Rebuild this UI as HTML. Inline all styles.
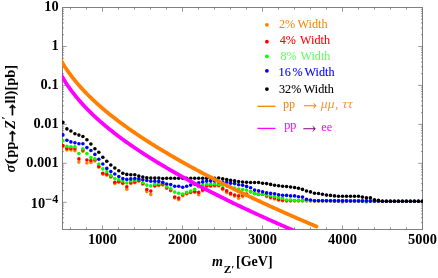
<!DOCTYPE html>
<html><head><meta charset="utf-8"><title>plot</title>
<style>html,body{margin:0;padding:0;background:#fff}svg{display:block;will-change:transform}</style></head>
<body><svg width="438" height="278" viewBox="0 0 438 278">
<rect width="438" height="278" fill="#fff"/>
<defs><clipPath id="c"><rect x="62.5" y="7.5" width="360.0" height="222.0"/></clipPath><clipPath id="c2"><rect x="62" y="7" width="361" height="223"/></clipPath></defs>
<rect x="62.5" y="7.5" width="360.0" height="222.0" stroke="#808080" stroke-width="1" fill="none" shape-rendering="crispEdges"/>
<g stroke="#555555" stroke-width="0.6" fill="none">
<path d="M70.5,229.5v-2.2M70.5,7.5v2.2M86.5,229.5v-2.2M86.5,7.5v2.2M102.5,229.5v-4.2M102.5,7.5v4.2M118.5,229.5v-2.2M118.5,7.5v2.2M134.5,229.5v-2.2M134.5,7.5v2.2M150.5,229.5v-2.2M150.5,7.5v2.2M166.5,229.5v-2.2M166.5,7.5v2.2M182.5,229.5v-4.2M182.5,7.5v4.2M198.5,229.5v-2.2M198.5,7.5v2.2M214.5,229.5v-2.2M214.5,7.5v2.2M230.5,229.5v-2.2M230.5,7.5v2.2M246.5,229.5v-2.2M246.5,7.5v2.2M262.5,229.5v-4.2M262.5,7.5v4.2M278.5,229.5v-2.2M278.5,7.5v2.2M294.5,229.5v-2.2M294.5,7.5v2.2M310.5,229.5v-2.2M310.5,7.5v2.2M326.5,229.5v-2.2M326.5,7.5v2.2M342.5,229.5v-4.2M342.5,7.5v4.2M358.5,229.5v-2.2M358.5,7.5v2.2M374.5,229.5v-2.2M374.5,7.5v2.2M390.5,229.5v-2.2M390.5,7.5v2.2M406.5,229.5v-2.2M406.5,7.5v2.2M62.5,222.7h1.6M422.5,222.7h-1.6M62.5,217.8h1.6M422.5,217.8h-1.6M62.5,214.0h1.6M422.5,214.0h-1.6M62.5,210.9h1.6M422.5,210.9h-1.6M62.5,208.3h1.6M422.5,208.3h-1.6M62.5,206.1h1.6M422.5,206.1h-1.6M62.5,204.1h1.6M422.5,204.1h-1.6M62.5,202.3h4.2M422.5,202.3h-4.2M62.5,190.6h1.6M422.5,190.6h-1.6M62.5,183.7h1.6M422.5,183.7h-1.6M62.5,178.8h1.6M422.5,178.8h-1.6M62.5,175.1h1.6M422.5,175.1h-1.6M62.5,172.0h1.6M422.5,172.0h-1.6M62.5,169.4h1.6M422.5,169.4h-1.6M62.5,167.1h1.6M422.5,167.1h-1.6M62.5,165.1h1.6M422.5,165.1h-1.6M62.5,163.3h4.2M422.5,163.3h-4.2M62.5,151.6h1.6M422.5,151.6h-1.6M62.5,144.8h1.6M422.5,144.8h-1.6M62.5,139.9h1.6M422.5,139.9h-1.6M62.5,136.1h1.6M422.5,136.1h-1.6M62.5,133.0h1.6M422.5,133.0h-1.6M62.5,130.4h1.6M422.5,130.4h-1.6M62.5,128.2h1.6M422.5,128.2h-1.6M62.5,126.2h1.6M422.5,126.2h-1.6M62.5,124.4h4.2M422.5,124.4h-4.2M62.5,112.7h1.6M422.5,112.7h-1.6M62.5,105.8h1.6M422.5,105.8h-1.6M62.5,100.9h1.6M422.5,100.9h-1.6M62.5,97.1h1.6M422.5,97.1h-1.6M62.5,94.1h1.6M422.5,94.1h-1.6M62.5,91.5h1.6M422.5,91.5h-1.6M62.5,89.2h1.6M422.5,89.2h-1.6M62.5,87.2h1.6M422.5,87.2h-1.6M62.5,85.4h4.2M422.5,85.4h-4.2M62.5,73.7h1.6M422.5,73.7h-1.6M62.5,66.8h1.6M422.5,66.8h-1.6M62.5,62.0h1.6M422.5,62.0h-1.6M62.5,58.2h1.6M422.5,58.2h-1.6M62.5,55.1h1.6M422.5,55.1h-1.6M62.5,52.5h1.6M422.5,52.5h-1.6M62.5,50.2h1.6M422.5,50.2h-1.6M62.5,48.2h1.6M422.5,48.2h-1.6M62.5,46.5h4.2M422.5,46.5h-4.2M62.5,34.7h1.6M422.5,34.7h-1.6M62.5,27.9h1.6M422.5,27.9h-1.6M62.5,23.0h1.6M422.5,23.0h-1.6M62.5,19.2h1.6M422.5,19.2h-1.6M62.5,16.1h1.6M422.5,16.1h-1.6M62.5,13.5h1.6M422.5,13.5h-1.6M62.5,11.3h1.6M422.5,11.3h-1.6M62.5,9.3h1.6M422.5,9.3h-1.6"/>
</g>
<g clip-path="url(#c2)">
<g fill="#ff8000">
<circle cx="62.9" cy="146.7" r="1.8"/>
<circle cx="66.9" cy="150.0" r="1.8"/>
<circle cx="70.9" cy="150.0" r="1.8"/>
<circle cx="74.9" cy="150.8" r="1.8"/>
<circle cx="78.9" cy="162.1" r="1.8"/>
<circle cx="82.9" cy="151.2" r="1.8"/>
<circle cx="86.9" cy="163.0" r="1.8"/>
<circle cx="90.9" cy="162.5" r="1.8"/>
<circle cx="94.9" cy="161.0" r="1.8"/>
<circle cx="98.8" cy="167.3" r="1.8"/>
<circle cx="102.8" cy="174.3" r="1.8"/>
<circle cx="106.8" cy="175.2" r="1.8"/>
<circle cx="110.8" cy="177.2" r="1.8"/>
<circle cx="114.8" cy="183.5" r="1.8"/>
<circle cx="118.8" cy="182.3" r="1.8"/>
<circle cx="122.8" cy="183.6" r="1.8"/>
<circle cx="126.8" cy="189.2" r="1.8"/>
<circle cx="130.8" cy="183.5" r="1.8"/>
<circle cx="134.8" cy="182.7" r="1.8"/>
<circle cx="138.8" cy="181.2" r="1.8"/>
<circle cx="142.8" cy="184.2" r="1.8"/>
<circle cx="146.8" cy="191.6" r="1.8"/>
<circle cx="150.8" cy="194.4" r="1.8"/>
<circle cx="154.8" cy="186.3" r="1.8"/>
<circle cx="158.8" cy="185.6" r="1.8"/>
<circle cx="162.8" cy="185.0" r="1.8"/>
<circle cx="166.7" cy="188.4" r="1.8"/>
<circle cx="170.7" cy="190.8" r="1.8"/>
<circle cx="174.7" cy="198.0" r="1.8"/>
<circle cx="178.7" cy="199.7" r="1.8"/>
<circle cx="182.7" cy="195.7" r="1.8"/>
<circle cx="186.7" cy="194.0" r="1.8"/>
<circle cx="190.7" cy="192.6" r="1.8"/>
<circle cx="194.7" cy="192.2" r="1.8"/>
<circle cx="198.7" cy="194.8" r="1.8"/>
<circle cx="202.7" cy="190.8" r="1.8"/>
<circle cx="206.7" cy="186.3" r="1.8"/>
<circle cx="210.7" cy="186.3" r="1.8"/>
<circle cx="214.7" cy="186.0" r="1.8"/>
<circle cx="218.7" cy="186.0" r="1.8"/>
<circle cx="222.7" cy="189.6" r="1.8"/>
<circle cx="226.7" cy="192.6" r="1.8"/>
<circle cx="230.6" cy="194.5" r="1.8"/>
<circle cx="234.6" cy="196.1" r="1.8"/>
<circle cx="238.6" cy="198.2" r="1.8"/>
<circle cx="242.6" cy="196.6" r="1.8"/>
<circle cx="246.6" cy="195.0" r="1.8"/>
<circle cx="250.6" cy="191.7" r="1.8"/>
<circle cx="254.6" cy="193.4" r="1.8"/>
<circle cx="258.6" cy="194.2" r="1.8"/>
<circle cx="262.6" cy="194.2" r="1.8"/>
<circle cx="266.6" cy="196.6" r="1.8"/>
<circle cx="270.6" cy="197.9" r="1.8"/>
<circle cx="274.6" cy="199.0" r="1.8"/>
<circle cx="278.6" cy="200.2" r="1.8"/>
<circle cx="282.6" cy="200.8" r="1.8"/>
<circle cx="286.6" cy="200.9" r="1.8"/>
<circle cx="290.6" cy="200.8" r="1.8"/>
<circle cx="294.6" cy="200.8" r="1.8"/>
<circle cx="298.5" cy="200.8" r="1.8"/>
<circle cx="302.5" cy="200.8" r="1.8"/>
<circle cx="306.5" cy="200.8" r="1.8"/>
<circle cx="310.5" cy="200.8" r="1.8"/>
<circle cx="314.5" cy="200.9" r="1.8"/>
<circle cx="318.5" cy="200.9" r="1.8"/>
<circle cx="322.5" cy="200.9" r="1.8"/>
<circle cx="326.5" cy="200.9" r="1.8"/>
<circle cx="330.5" cy="200.9" r="1.8"/>
<circle cx="334.5" cy="200.9" r="1.8"/>
<circle cx="338.5" cy="200.9" r="1.8"/>
<circle cx="342.5" cy="202.0" r="1.8"/>
<circle cx="346.5" cy="200.9" r="1.8"/>
<circle cx="350.5" cy="200.9" r="1.8"/>
<circle cx="354.5" cy="200.9" r="1.8"/>
<circle cx="358.5" cy="200.9" r="1.8"/>
<circle cx="362.4" cy="200.9" r="1.8"/>
<circle cx="366.4" cy="200.9" r="1.8"/>
<circle cx="370.4" cy="200.9" r="1.8"/>
<circle cx="374.4" cy="200.9" r="1.8"/>
<circle cx="378.4" cy="200.9" r="1.8"/>
<circle cx="382.4" cy="201.3" r="1.8"/>
<circle cx="386.4" cy="201.3" r="1.8"/>
<circle cx="390.4" cy="201.3" r="1.8"/>
<circle cx="394.4" cy="201.3" r="1.8"/>
<circle cx="398.4" cy="201.3" r="1.8"/>
<circle cx="402.4" cy="201.3" r="1.8"/>
<circle cx="406.4" cy="201.3" r="1.8"/>
<circle cx="410.4" cy="201.3" r="1.8"/>
<circle cx="414.4" cy="201.3" r="1.8"/>
<circle cx="418.4" cy="201.3" r="1.8"/>
<circle cx="422.4" cy="201.3" r="1.8"/>
</g>
<g fill="#ff0000">
<circle cx="62.9" cy="145.6" r="1.8"/>
<circle cx="66.9" cy="148.4" r="1.8"/>
<circle cx="70.9" cy="148.4" r="1.8"/>
<circle cx="74.9" cy="148.8" r="1.8"/>
<circle cx="78.9" cy="158.9" r="1.8"/>
<circle cx="82.9" cy="150.0" r="1.8"/>
<circle cx="86.9" cy="160.0" r="1.8"/>
<circle cx="90.9" cy="160.5" r="1.8"/>
<circle cx="94.9" cy="159.7" r="1.8"/>
<circle cx="98.8" cy="166.4" r="1.8"/>
<circle cx="102.8" cy="173.3" r="1.8"/>
<circle cx="106.8" cy="174.3" r="1.8"/>
<circle cx="110.8" cy="176.3" r="1.8"/>
<circle cx="114.8" cy="182.3" r="1.8"/>
<circle cx="118.8" cy="181.4" r="1.8"/>
<circle cx="122.8" cy="183.0" r="1.8"/>
<circle cx="126.8" cy="186.7" r="1.8"/>
<circle cx="130.8" cy="182.7" r="1.8"/>
<circle cx="134.8" cy="181.9" r="1.8"/>
<circle cx="138.8" cy="180.5" r="1.8"/>
<circle cx="142.8" cy="183.5" r="1.8"/>
<circle cx="146.8" cy="189.5" r="1.8"/>
<circle cx="150.8" cy="191.1" r="1.8"/>
<circle cx="154.8" cy="185.6" r="1.8"/>
<circle cx="158.8" cy="184.7" r="1.8"/>
<circle cx="162.8" cy="184.3" r="1.8"/>
<circle cx="166.7" cy="187.6" r="1.8"/>
<circle cx="170.7" cy="190.0" r="1.8"/>
<circle cx="174.7" cy="197.0" r="1.8"/>
<circle cx="178.7" cy="198.1" r="1.8"/>
<circle cx="182.7" cy="194.8" r="1.8"/>
<circle cx="186.7" cy="193.2" r="1.8"/>
<circle cx="190.7" cy="192.1" r="1.8"/>
<circle cx="194.7" cy="191.6" r="1.8"/>
<circle cx="198.7" cy="192.4" r="1.8"/>
<circle cx="202.7" cy="190.0" r="1.8"/>
<circle cx="206.7" cy="185.6" r="1.8"/>
<circle cx="210.7" cy="185.6" r="1.8"/>
<circle cx="214.7" cy="185.3" r="1.8"/>
<circle cx="218.7" cy="185.3" r="1.8"/>
<circle cx="222.7" cy="188.5" r="1.8"/>
<circle cx="226.7" cy="190.9" r="1.8"/>
<circle cx="230.6" cy="193.4" r="1.8"/>
<circle cx="234.6" cy="195.0" r="1.8"/>
<circle cx="238.6" cy="195.8" r="1.8"/>
<circle cx="242.6" cy="195.0" r="1.8"/>
<circle cx="246.6" cy="194.0" r="1.8"/>
<circle cx="250.6" cy="191.7" r="1.8"/>
<circle cx="254.6" cy="193.4" r="1.8"/>
<circle cx="258.6" cy="194.2" r="1.8"/>
<circle cx="262.6" cy="194.2" r="1.8"/>
<circle cx="266.6" cy="195.8" r="1.8"/>
<circle cx="270.6" cy="197.1" r="1.8"/>
<circle cx="274.6" cy="197.9" r="1.8"/>
<circle cx="278.6" cy="199.5" r="1.8"/>
<circle cx="282.6" cy="200.1" r="1.8"/>
<circle cx="286.6" cy="200.6" r="1.8"/>
<circle cx="290.6" cy="200.7" r="1.8"/>
<circle cx="294.6" cy="200.7" r="1.8"/>
<circle cx="298.5" cy="200.7" r="1.8"/>
<circle cx="302.5" cy="200.7" r="1.8"/>
<circle cx="306.5" cy="200.7" r="1.8"/>
<circle cx="310.5" cy="200.7" r="1.8"/>
<circle cx="314.5" cy="200.8" r="1.8"/>
<circle cx="318.5" cy="200.8" r="1.8"/>
<circle cx="322.5" cy="200.8" r="1.8"/>
<circle cx="326.5" cy="200.8" r="1.8"/>
<circle cx="330.5" cy="200.8" r="1.8"/>
<circle cx="334.5" cy="200.8" r="1.8"/>
<circle cx="338.5" cy="200.8" r="1.8"/>
<circle cx="342.5" cy="200.8" r="1.8"/>
<circle cx="346.5" cy="200.8" r="1.8"/>
<circle cx="350.5" cy="200.8" r="1.8"/>
<circle cx="354.5" cy="200.8" r="1.8"/>
<circle cx="358.5" cy="200.9" r="1.8"/>
<circle cx="362.4" cy="200.9" r="1.8"/>
<circle cx="366.4" cy="200.9" r="1.8"/>
<circle cx="370.4" cy="200.9" r="1.8"/>
<circle cx="374.4" cy="200.9" r="1.8"/>
<circle cx="378.4" cy="200.9" r="1.8"/>
<circle cx="382.4" cy="201.3" r="1.8"/>
<circle cx="386.4" cy="201.3" r="1.8"/>
<circle cx="390.4" cy="201.3" r="1.8"/>
<circle cx="394.4" cy="201.3" r="1.8"/>
<circle cx="398.4" cy="201.3" r="1.8"/>
<circle cx="402.4" cy="201.3" r="1.8"/>
<circle cx="406.4" cy="201.3" r="1.8"/>
<circle cx="410.4" cy="201.3" r="1.8"/>
<circle cx="414.4" cy="201.3" r="1.8"/>
<circle cx="418.4" cy="201.3" r="1.8"/>
<circle cx="422.4" cy="201.3" r="1.8"/>
</g>
<g fill="#00ff00">
<circle cx="62.9" cy="140.7" r="1.8"/>
<circle cx="66.9" cy="146.3" r="1.8"/>
<circle cx="70.9" cy="146.7" r="1.8"/>
<circle cx="74.9" cy="146.7" r="1.8"/>
<circle cx="78.9" cy="153.5" r="1.8"/>
<circle cx="82.9" cy="148.8" r="1.8"/>
<circle cx="86.9" cy="153.5" r="1.8"/>
<circle cx="90.9" cy="157.6" r="1.8"/>
<circle cx="94.9" cy="158.9" r="1.8"/>
<circle cx="98.8" cy="164.0" r="1.8"/>
<circle cx="102.8" cy="168.9" r="1.8"/>
<circle cx="106.8" cy="171.7" r="1.8"/>
<circle cx="110.8" cy="175.4" r="1.8"/>
<circle cx="114.8" cy="178.6" r="1.8"/>
<circle cx="118.8" cy="179.8" r="1.8"/>
<circle cx="122.8" cy="181.0" r="1.8"/>
<circle cx="126.8" cy="183.0" r="1.8"/>
<circle cx="130.8" cy="181.0" r="1.8"/>
<circle cx="134.8" cy="180.3" r="1.8"/>
<circle cx="138.8" cy="179.5" r="1.8"/>
<circle cx="142.8" cy="182.7" r="1.8"/>
<circle cx="146.8" cy="185.1" r="1.8"/>
<circle cx="150.8" cy="185.9" r="1.8"/>
<circle cx="154.8" cy="184.3" r="1.8"/>
<circle cx="158.8" cy="183.5" r="1.8"/>
<circle cx="162.8" cy="183.0" r="1.8"/>
<circle cx="166.7" cy="186.7" r="1.8"/>
<circle cx="170.7" cy="188.8" r="1.8"/>
<circle cx="174.7" cy="192.1" r="1.8"/>
<circle cx="178.7" cy="193.2" r="1.8"/>
<circle cx="182.7" cy="194.0" r="1.8"/>
<circle cx="186.7" cy="192.4" r="1.8"/>
<circle cx="190.7" cy="191.1" r="1.8"/>
<circle cx="194.7" cy="189.2" r="1.8"/>
<circle cx="198.7" cy="186.7" r="1.8"/>
<circle cx="202.7" cy="185.1" r="1.8"/>
<circle cx="206.7" cy="184.3" r="1.8"/>
<circle cx="210.7" cy="184.3" r="1.8"/>
<circle cx="214.7" cy="184.0" r="1.8"/>
<circle cx="218.7" cy="184.4" r="1.8"/>
<circle cx="222.7" cy="185.3" r="1.8"/>
<circle cx="226.7" cy="186.0" r="1.8"/>
<circle cx="230.6" cy="187.0" r="1.8"/>
<circle cx="234.6" cy="188.0" r="1.8"/>
<circle cx="238.6" cy="189.0" r="1.8"/>
<circle cx="242.6" cy="189.6" r="1.8"/>
<circle cx="246.6" cy="190.1" r="1.8"/>
<circle cx="250.6" cy="191.7" r="1.8"/>
<circle cx="254.6" cy="193.4" r="1.8"/>
<circle cx="258.6" cy="194.2" r="1.8"/>
<circle cx="262.6" cy="194.2" r="1.8"/>
<circle cx="266.6" cy="195.0" r="1.8"/>
<circle cx="270.6" cy="195.8" r="1.8"/>
<circle cx="274.6" cy="196.6" r="1.8"/>
<circle cx="278.6" cy="197.6" r="1.8"/>
<circle cx="282.6" cy="198.4" r="1.8"/>
<circle cx="286.6" cy="200.0" r="1.8"/>
<circle cx="290.6" cy="200.0" r="1.8"/>
<circle cx="294.6" cy="200.6" r="1.8"/>
<circle cx="298.5" cy="200.7" r="1.8"/>
<circle cx="302.5" cy="200.7" r="1.8"/>
<circle cx="306.5" cy="200.7" r="1.8"/>
<circle cx="310.5" cy="200.8" r="1.8"/>
<circle cx="314.5" cy="200.8" r="1.8"/>
<circle cx="318.5" cy="200.8" r="1.8"/>
<circle cx="322.5" cy="200.8" r="1.8"/>
<circle cx="326.5" cy="200.8" r="1.8"/>
<circle cx="330.5" cy="200.8" r="1.8"/>
<circle cx="334.5" cy="200.9" r="1.8"/>
<circle cx="338.5" cy="200.9" r="1.8"/>
<circle cx="342.5" cy="200.9" r="1.8"/>
<circle cx="346.5" cy="200.9" r="1.8"/>
<circle cx="350.5" cy="200.9" r="1.8"/>
<circle cx="354.5" cy="201.0" r="1.8"/>
<circle cx="358.5" cy="201.0" r="1.8"/>
<circle cx="362.4" cy="201.0" r="1.8"/>
<circle cx="366.4" cy="202.0" r="1.8"/>
<circle cx="370.4" cy="201.0" r="1.8"/>
<circle cx="374.4" cy="201.0" r="1.8"/>
<circle cx="378.4" cy="201.0" r="1.8"/>
<circle cx="382.4" cy="201.3" r="1.8"/>
<circle cx="386.4" cy="201.3" r="1.8"/>
<circle cx="390.4" cy="201.3" r="1.8"/>
<circle cx="394.4" cy="201.3" r="1.8"/>
<circle cx="398.4" cy="201.3" r="1.8"/>
<circle cx="402.4" cy="201.3" r="1.8"/>
<circle cx="406.4" cy="201.3" r="1.8"/>
<circle cx="410.4" cy="201.3" r="1.8"/>
<circle cx="414.4" cy="201.3" r="1.8"/>
<circle cx="418.4" cy="201.3" r="1.8"/>
<circle cx="422.4" cy="201.3" r="1.8"/>
</g>
<g fill="#0000ff">
<circle cx="62.9" cy="134.9" r="1.8"/>
<circle cx="66.9" cy="140.3" r="1.8"/>
<circle cx="70.9" cy="141.9" r="1.8"/>
<circle cx="74.9" cy="142.7" r="1.8"/>
<circle cx="78.9" cy="143.8" r="1.8"/>
<circle cx="82.9" cy="143.8" r="1.8"/>
<circle cx="86.9" cy="147.6" r="1.8"/>
<circle cx="90.9" cy="150.5" r="1.8"/>
<circle cx="94.9" cy="154.4" r="1.8"/>
<circle cx="98.8" cy="159.3" r="1.8"/>
<circle cx="102.8" cy="164.0" r="1.8"/>
<circle cx="106.8" cy="168.4" r="1.8"/>
<circle cx="110.8" cy="171.6" r="1.8"/>
<circle cx="114.8" cy="174.0" r="1.8"/>
<circle cx="118.8" cy="176.5" r="1.8"/>
<circle cx="122.8" cy="178.6" r="1.8"/>
<circle cx="126.8" cy="179.4" r="1.8"/>
<circle cx="130.8" cy="178.9" r="1.8"/>
<circle cx="134.8" cy="178.6" r="1.8"/>
<circle cx="138.8" cy="178.9" r="1.8"/>
<circle cx="142.8" cy="179.7" r="1.8"/>
<circle cx="146.8" cy="180.5" r="1.8"/>
<circle cx="150.8" cy="181.3" r="1.8"/>
<circle cx="154.8" cy="181.3" r="1.8"/>
<circle cx="158.8" cy="181.4" r="1.8"/>
<circle cx="162.8" cy="182.4" r="1.8"/>
<circle cx="166.7" cy="184.0" r="1.8"/>
<circle cx="170.7" cy="184.6" r="1.8"/>
<circle cx="174.7" cy="186.3" r="1.8"/>
<circle cx="178.7" cy="186.3" r="1.8"/>
<circle cx="182.7" cy="187.2" r="1.8"/>
<circle cx="186.7" cy="186.3" r="1.8"/>
<circle cx="190.7" cy="185.1" r="1.8"/>
<circle cx="194.7" cy="184.3" r="1.8"/>
<circle cx="198.7" cy="182.7" r="1.8"/>
<circle cx="202.7" cy="181.9" r="1.8"/>
<circle cx="206.7" cy="181.1" r="1.8"/>
<circle cx="210.7" cy="181.1" r="1.8"/>
<circle cx="214.7" cy="181.0" r="1.8"/>
<circle cx="218.7" cy="182.0" r="1.8"/>
<circle cx="222.7" cy="182.0" r="1.8"/>
<circle cx="226.7" cy="182.3" r="1.8"/>
<circle cx="230.6" cy="183.2" r="1.8"/>
<circle cx="234.6" cy="183.6" r="1.8"/>
<circle cx="238.6" cy="184.8" r="1.8"/>
<circle cx="242.6" cy="185.3" r="1.8"/>
<circle cx="246.6" cy="186.4" r="1.8"/>
<circle cx="250.6" cy="187.7" r="1.8"/>
<circle cx="254.6" cy="190.1" r="1.8"/>
<circle cx="258.6" cy="190.9" r="1.8"/>
<circle cx="262.6" cy="191.7" r="1.8"/>
<circle cx="266.6" cy="192.9" r="1.8"/>
<circle cx="270.6" cy="193.4" r="1.8"/>
<circle cx="274.6" cy="193.8" r="1.8"/>
<circle cx="278.6" cy="194.8" r="1.8"/>
<circle cx="282.6" cy="195.2" r="1.8"/>
<circle cx="286.6" cy="195.4" r="1.8"/>
<circle cx="290.6" cy="195.9" r="1.8"/>
<circle cx="294.6" cy="195.9" r="1.8"/>
<circle cx="298.5" cy="196.7" r="1.8"/>
<circle cx="302.5" cy="197.1" r="1.8"/>
<circle cx="306.5" cy="199.2" r="1.8"/>
<circle cx="310.5" cy="200.0" r="1.8"/>
<circle cx="314.5" cy="200.7" r="1.8"/>
<circle cx="318.5" cy="200.7" r="1.8"/>
<circle cx="322.5" cy="200.8" r="1.8"/>
<circle cx="326.5" cy="200.8" r="1.8"/>
<circle cx="330.5" cy="200.8" r="1.8"/>
<circle cx="334.5" cy="200.9" r="1.8"/>
<circle cx="338.5" cy="200.9" r="1.8"/>
<circle cx="342.5" cy="200.9" r="1.8"/>
<circle cx="346.5" cy="200.9" r="1.8"/>
<circle cx="350.5" cy="201.0" r="1.8"/>
<circle cx="354.5" cy="201.0" r="1.8"/>
<circle cx="358.5" cy="201.0" r="1.8"/>
<circle cx="362.4" cy="201.1" r="1.8"/>
<circle cx="366.4" cy="201.1" r="1.8"/>
<circle cx="370.4" cy="201.1" r="1.8"/>
<circle cx="374.4" cy="201.2" r="1.8"/>
<circle cx="378.4" cy="201.2" r="1.8"/>
<circle cx="382.4" cy="201.3" r="1.8"/>
<circle cx="386.4" cy="201.3" r="1.8"/>
<circle cx="390.4" cy="201.3" r="1.8"/>
<circle cx="394.4" cy="201.3" r="1.8"/>
<circle cx="398.4" cy="201.3" r="1.8"/>
<circle cx="402.4" cy="201.3" r="1.8"/>
<circle cx="406.4" cy="201.3" r="1.8"/>
<circle cx="410.4" cy="201.3" r="1.8"/>
<circle cx="414.4" cy="201.3" r="1.8"/>
<circle cx="418.4" cy="201.3" r="1.8"/>
<circle cx="422.4" cy="201.3" r="1.8"/>
</g>
<g fill="#000000">
<circle cx="62.9" cy="122.4" r="1.8"/>
<circle cx="66.9" cy="128.9" r="1.8"/>
<circle cx="70.9" cy="131.0" r="1.8"/>
<circle cx="74.9" cy="133.8" r="1.8"/>
<circle cx="78.9" cy="135.1" r="1.8"/>
<circle cx="82.9" cy="136.5" r="1.8"/>
<circle cx="86.9" cy="139.8" r="1.8"/>
<circle cx="90.9" cy="144.0" r="1.8"/>
<circle cx="94.9" cy="148.8" r="1.8"/>
<circle cx="98.8" cy="152.3" r="1.8"/>
<circle cx="102.8" cy="157.2" r="1.8"/>
<circle cx="106.8" cy="161.2" r="1.8"/>
<circle cx="110.8" cy="165.0" r="1.8"/>
<circle cx="114.8" cy="168.0" r="1.8"/>
<circle cx="118.8" cy="170.8" r="1.8"/>
<circle cx="122.8" cy="173.2" r="1.8"/>
<circle cx="126.8" cy="174.4" r="1.8"/>
<circle cx="130.8" cy="174.8" r="1.8"/>
<circle cx="134.8" cy="174.8" r="1.8"/>
<circle cx="138.8" cy="176.0" r="1.8"/>
<circle cx="142.8" cy="177.0" r="1.8"/>
<circle cx="146.8" cy="177.8" r="1.8"/>
<circle cx="150.8" cy="178.1" r="1.8"/>
<circle cx="154.8" cy="178.1" r="1.8"/>
<circle cx="158.8" cy="178.1" r="1.8"/>
<circle cx="162.8" cy="178.5" r="1.8"/>
<circle cx="166.7" cy="178.3" r="1.8"/>
<circle cx="170.7" cy="178.3" r="1.8"/>
<circle cx="174.7" cy="178.3" r="1.8"/>
<circle cx="178.7" cy="178.3" r="1.8"/>
<circle cx="182.7" cy="178.3" r="1.8"/>
<circle cx="186.7" cy="178.3" r="1.8"/>
<circle cx="190.7" cy="178.3" r="1.8"/>
<circle cx="194.7" cy="178.3" r="1.8"/>
<circle cx="198.7" cy="178.3" r="1.8"/>
<circle cx="202.7" cy="178.3" r="1.8"/>
<circle cx="206.7" cy="178.3" r="1.8"/>
<circle cx="210.7" cy="178.3" r="1.8"/>
<circle cx="214.7" cy="178.3" r="1.8"/>
<circle cx="218.7" cy="178.0" r="1.8"/>
<circle cx="222.7" cy="178.8" r="1.8"/>
<circle cx="226.7" cy="179.6" r="1.8"/>
<circle cx="230.6" cy="180.4" r="1.8"/>
<circle cx="234.6" cy="180.9" r="1.8"/>
<circle cx="238.6" cy="181.5" r="1.8"/>
<circle cx="242.6" cy="182.0" r="1.8"/>
<circle cx="246.6" cy="182.2" r="1.8"/>
<circle cx="250.6" cy="182.5" r="1.8"/>
<circle cx="254.6" cy="182.5" r="1.8"/>
<circle cx="258.6" cy="182.5" r="1.8"/>
<circle cx="262.6" cy="183.2" r="1.8"/>
<circle cx="266.6" cy="183.6" r="1.8"/>
<circle cx="270.6" cy="184.4" r="1.8"/>
<circle cx="274.6" cy="185.3" r="1.8"/>
<circle cx="278.6" cy="185.7" r="1.8"/>
<circle cx="282.6" cy="186.3" r="1.8"/>
<circle cx="286.6" cy="186.5" r="1.8"/>
<circle cx="290.6" cy="187.0" r="1.8"/>
<circle cx="294.6" cy="187.5" r="1.8"/>
<circle cx="298.5" cy="188.3" r="1.8"/>
<circle cx="302.5" cy="189.4" r="1.8"/>
<circle cx="306.5" cy="191.0" r="1.8"/>
<circle cx="310.5" cy="191.9" r="1.8"/>
<circle cx="314.5" cy="193.2" r="1.8"/>
<circle cx="318.5" cy="193.5" r="1.8"/>
<circle cx="322.5" cy="194.3" r="1.8"/>
<circle cx="326.5" cy="195.1" r="1.8"/>
<circle cx="330.5" cy="195.4" r="1.8"/>
<circle cx="334.5" cy="195.9" r="1.8"/>
<circle cx="338.5" cy="196.2" r="1.8"/>
<circle cx="342.5" cy="196.2" r="1.8"/>
<circle cx="346.5" cy="196.2" r="1.8"/>
<circle cx="350.5" cy="196.2" r="1.8"/>
<circle cx="354.5" cy="196.2" r="1.8"/>
<circle cx="358.5" cy="196.2" r="1.8"/>
<circle cx="362.4" cy="197.1" r="1.8"/>
<circle cx="366.4" cy="197.8" r="1.8"/>
<circle cx="370.4" cy="197.8" r="1.8"/>
<circle cx="374.4" cy="199.7" r="1.8"/>
<circle cx="378.4" cy="200.3" r="1.8"/>
<circle cx="382.4" cy="201.3" r="1.8"/>
<circle cx="386.4" cy="201.3" r="1.8"/>
<circle cx="390.4" cy="201.3" r="1.8"/>
<circle cx="394.4" cy="201.3" r="1.8"/>
<circle cx="398.4" cy="201.3" r="1.8"/>
<circle cx="402.4" cy="201.3" r="1.8"/>
<circle cx="406.4" cy="201.3" r="1.8"/>
<circle cx="410.4" cy="201.3" r="1.8"/>
<circle cx="414.4" cy="201.3" r="1.8"/>
<circle cx="418.4" cy="201.3" r="1.8"/>
<circle cx="422.4" cy="201.3" r="1.8"/>
</g>
<polyline points="61.5,61.3 62.5,63.0 63.5,64.6 64.5,66.2 65.5,67.7 66.5,69.2 67.5,70.7 68.5,72.1 69.5,73.5 70.5,74.8 71.5,76.2 72.5,77.5 73.5,78.7 74.5,80.0 75.5,81.2 76.5,82.4 77.5,83.6 78.5,84.8 79.5,85.9 80.5,87.0 81.5,88.2 82.5,89.2 83.5,90.3 84.5,91.4 85.5,92.4 86.5,93.5 87.5,94.5 88.5,95.5 89.5,96.5 90.5,97.4 91.5,98.4 92.5,99.4 93.5,100.3 94.5,101.2 95.5,102.2 96.5,103.1 97.5,104.0 98.5,104.9 99.5,105.8 100.5,106.6 101.5,107.5 102.5,108.4 103.5,109.2 104.5,110.1 105.5,110.9 106.5,111.7 107.5,112.5 108.5,113.4 109.5,114.2 110.5,115.0 111.5,115.8 112.5,116.6 113.5,117.3 114.5,118.1 115.5,118.9 116.5,119.6 117.5,120.4 118.5,121.2 119.5,121.9 120.5,122.7 121.5,123.4 122.5,124.1 123.5,124.9 124.5,125.6 125.5,126.3 126.5,127.0 127.5,127.7 128.5,128.5 129.5,129.2 130.5,129.9 131.5,130.6 132.5,131.3 133.5,131.9 134.5,132.6 135.5,133.3 136.5,134.0 137.5,134.7 138.5,135.3 139.5,136.0 140.5,136.7 141.5,137.3 142.5,138.0 143.5,138.6 144.5,139.3 145.5,139.9 146.5,140.6 147.5,141.2 148.5,141.9 149.5,142.5 150.5,143.1 151.5,143.8 152.5,144.4 153.5,145.0 154.5,145.6 155.5,146.3 156.5,146.9 157.5,147.5 158.5,148.1 159.5,148.7 160.5,149.3 161.5,149.9 162.5,150.5 163.5,151.1 164.5,151.7 165.5,152.3 166.5,152.9 167.5,153.5 168.5,154.1 169.5,154.7 170.5,155.3 171.5,155.9 172.5,156.4 173.5,157.0 174.5,157.6 175.5,158.2 176.5,158.8 177.5,159.3 178.5,159.9 179.5,160.5 180.5,161.0 181.5,161.6 182.5,162.2 183.5,162.7 184.5,163.3 185.5,163.8 186.5,164.4 187.5,164.9 188.5,165.5 189.5,166.1 190.5,166.6 191.5,167.1 192.5,167.7 193.5,168.2 194.5,168.8 195.5,169.3 196.5,169.9 197.5,170.4 198.5,170.9 199.5,171.5 200.5,172.0 201.5,172.5 202.5,173.1 203.5,173.6 204.5,174.1 205.5,174.7 206.5,175.2 207.5,175.7 208.5,176.2 209.5,176.7 210.5,177.3 211.5,177.8 212.5,178.3 213.5,178.8 214.5,179.3 215.5,179.8 216.5,180.4 217.5,180.9 218.5,181.4 219.5,181.9 220.5,182.4 221.5,182.9 222.5,183.4 223.5,183.9 224.5,184.4 225.5,184.9 226.5,185.4 227.5,185.9 228.5,186.4 229.5,186.9 230.5,187.4 231.5,187.9 232.5,188.4 233.5,188.9 234.5,189.4 235.5,189.9 236.5,190.3 237.5,190.8 238.5,191.3 239.5,191.8 240.5,192.3 241.5,192.8 242.5,193.3 243.5,193.7 244.5,194.2 245.5,194.7 246.5,195.2 247.5,195.6 248.5,196.1 249.5,196.6 250.5,197.1 251.5,197.5 252.5,198.0 253.5,198.5 254.5,199.0 255.5,199.4 256.5,199.9 257.5,200.4 258.5,200.8 259.5,201.3 260.5,201.8 261.5,202.2 262.5,202.7 263.5,203.2 264.5,203.6 265.5,204.1 266.5,204.5 267.5,205.0 268.5,205.5 269.5,205.9 270.5,206.4 271.5,206.8 272.5,207.3 273.5,207.7 274.5,208.2 275.5,208.6 276.5,209.1 277.5,209.5 278.5,210.0 279.5,210.4 280.5,210.9 281.5,211.3 282.5,211.8 283.5,212.2 284.5,212.7 285.5,213.1 286.5,213.6 287.5,214.0 288.5,214.4 289.5,214.9 290.5,215.3 291.5,215.8 292.5,216.2 293.5,216.6 294.5,217.1 295.5,217.5 296.5,218.0 297.5,218.4 298.5,218.8 299.5,219.3 300.5,219.7 301.5,220.1 302.5,220.6 303.5,221.0 304.5,221.4 305.5,221.8 306.5,222.3 307.5,222.7 308.5,223.1 309.5,223.6 310.5,224.0 311.5,224.4 312.5,224.8 313.5,225.3 314.5,225.7 315.5,226.1 316.5,226.5" fill="none" stroke="#ff8000" stroke-width="3.8" stroke-linejoin="round" stroke-linecap="round" clip-path="url(#c2)"/>
<polyline points="61.5,75.6 62.5,77.3 63.5,79.0 64.5,80.6 65.5,82.2 66.5,83.7 67.5,85.2 68.5,86.7 69.5,88.1 70.5,89.5 71.5,90.8 72.5,92.1 73.5,93.4 74.5,94.7 75.5,96.0 76.5,97.2 77.5,98.4 78.5,99.6 79.5,100.7 80.5,101.9 81.5,103.0 82.5,104.1 83.5,105.2 84.5,106.3 85.5,107.3 86.5,108.4 87.5,109.4 88.5,110.4 89.5,111.4 90.5,112.4 91.5,113.4 92.5,114.4 93.5,115.3 94.5,116.2 95.5,117.2 96.5,118.1 97.5,119.0 98.5,119.9 99.5,120.8 100.5,121.7 101.5,122.5 102.5,123.4 103.5,124.3 104.5,125.1 105.5,126.0 106.5,126.8 107.5,127.6 108.5,128.4 109.5,129.2 110.5,130.0 111.5,130.8 112.5,131.6 113.5,132.4 114.5,133.2 115.5,134.0 116.5,134.7 117.5,135.5 118.5,136.2 119.5,137.0 120.5,137.7 121.5,138.5 122.5,139.2 123.5,139.9 124.5,140.7 125.5,141.4 126.5,142.1 127.5,142.8 128.5,143.5 129.5,144.2 130.5,144.9 131.5,145.6 132.5,146.3 133.5,147.0 134.5,147.7 135.5,148.3 136.5,149.0 137.5,149.7 138.5,150.3 139.5,151.0 140.5,151.7 141.5,152.3 142.5,153.0 143.5,153.6 144.5,154.3 145.5,154.9 146.5,155.6 147.5,156.2 148.5,156.8 149.5,157.5 150.5,158.1 151.5,158.7 152.5,159.3 153.5,160.0 154.5,160.6 155.5,161.2 156.5,161.8 157.5,162.4 158.5,163.0 159.5,163.6 160.5,164.2 161.5,164.8 162.5,165.4 163.5,166.0 164.5,166.6 165.5,167.2 166.5,167.8 167.5,168.4 168.5,168.9 169.5,169.5 170.5,170.1 171.5,170.7 172.5,171.3 173.5,171.8 174.5,172.4 175.5,173.0 176.5,173.5 177.5,174.1 178.5,174.7 179.5,175.2 180.5,175.8 181.5,176.3 182.5,176.9 183.5,177.4 184.5,178.0 185.5,178.6 186.5,179.1 187.5,179.6 188.5,180.2 189.5,180.7 190.5,181.3 191.5,181.8 192.5,182.3 193.5,182.9 194.5,183.4 195.5,184.0 196.5,184.5 197.5,185.0 198.5,185.5 199.5,186.1 200.5,186.6 201.5,187.1 202.5,187.6 203.5,188.2 204.5,188.7 205.5,189.2 206.5,189.7 207.5,190.2 208.5,190.7 209.5,191.3 210.5,191.8 211.5,192.3 212.5,192.8 213.5,193.3 214.5,193.8 215.5,194.3 216.5,194.8 217.5,195.3 218.5,195.8 219.5,196.3 220.5,196.8 221.5,197.3 222.5,197.8 223.5,198.3 224.5,198.8 225.5,199.3 226.5,199.8 227.5,200.3 228.5,200.7 229.5,201.2 230.5,201.7 231.5,202.2 232.5,202.7 233.5,203.2 234.5,203.7 235.5,204.1 236.5,204.6 237.5,205.1 238.5,205.6 239.5,206.0 240.5,206.5 241.5,207.0 242.5,207.5 243.5,207.9 244.5,208.4 245.5,208.9 246.5,209.3 247.5,209.8 248.5,210.3 249.5,210.8 250.5,211.2 251.5,211.7 252.5,212.1 253.5,212.6 254.5,213.1 255.5,213.5 256.5,214.0 257.5,214.4 258.5,214.9 259.5,215.4 260.5,215.8 261.5,216.3 262.5,216.7 263.5,217.2 264.5,217.6 265.5,218.1 266.5,218.5 267.5,219.0 268.5,219.4 269.5,219.9 270.5,220.3 271.5,220.8 272.5,221.2 273.5,221.7 274.5,222.1 275.5,222.5 276.5,223.0 277.5,223.4 278.5,223.9 279.5,224.3 280.5,224.7 281.5,225.2 282.5,225.6 283.5,226.1 284.5,226.5 285.5,226.9 286.5,227.4 287.5,227.8 288.5,228.2 289.5,228.7 290.5,229.1 291.5,229.5 292.5,230.0 293.5,230.4 294.5,230.8 295.5,231.2 296.5,231.7 297.5,232.1 298.5,232.5 299.5,232.9" fill="none" stroke="#ff00ff" stroke-width="3.8" stroke-linejoin="round" stroke-linecap="round" clip-path="url(#c2)"/>
</g>
<g font-family="'Liberation Serif', serif" font-weight="bold" font-size="14.4" fill="#000">
<text x="102.5" y="244" text-anchor="middle">1000</text>
<text x="182.5" y="244" text-anchor="middle">2000</text>
<text x="262.5" y="244" text-anchor="middle">3000</text>
<text x="342.5" y="244" text-anchor="middle">4000</text>
<text x="422.5" y="244" text-anchor="middle">5000</text>
<text x="58.6" y="10.9" text-anchor="end">10</text>
<text x="58.6" y="49.9" text-anchor="end">1</text>
<text x="58.6" y="88.8" text-anchor="end">0.1</text>
<text x="58.6" y="127.8" text-anchor="end">0.01</text>
<text x="58.6" y="166.7" text-anchor="end">0.001</text>
<text x="45.1" y="207.9" text-anchor="end">10</text><text x="45.3" y="202.9" font-size="12">−4</text>
<text x="212" y="265.7" font-size="14"><tspan font-style="italic">m</tspan><tspan dx="0.8" dy="7.5" font-size="11.3">Z′</tspan><tspan dx="1.6" dy="-7.5">[GeV]</tspan></text>
<text transform="translate(15.1,172.6) rotate(-90)" font-size="14.5" ><tspan font-style="italic">σ</tspan></text>
<text transform="translate(15.1,164.6) rotate(-90) scale(1.3,1.04)" font-size="14.5" >(</text>
<text transform="translate(15.1,157.8) rotate(-90)" font-size="14.5" >pp</text>
<text transform="translate(16.6,142.5) rotate(-90)" font-size="14.5" font-family="DejaVu Sans, sans-serif" font-weight="normal" stroke="#000" stroke-width="0.35">→</text>
<text transform="translate(15.1,129.1) rotate(-90)" font-size="14.5" ><tspan font-style="italic">Z</tspan></text>
<text transform="translate(9.8,119.4) rotate(-90)" font-size="11.5">′</text>
<text transform="translate(16.6,116.3) rotate(-90)" font-size="14.5" font-family="DejaVu Sans, sans-serif" font-weight="normal" stroke="#000" stroke-width="0.35">→</text>
<text transform="translate(15.1,103.5) rotate(-90)" font-size="14.5" >ll)[pb]</text>
</g>
<g font-family="'Liberation Serif', serif" font-size="12.2">
<circle cx="266.9" cy="24.8" r="1.9" fill="#ff8000"/><text y="27.6" fill="#ff8000" stroke="#ff8000" stroke-width="0"><tspan x="279">2% </tspan><tspan x="297.6">Width</tspan></text>
<circle cx="266.9" cy="41.7" r="1.9" fill="#ff0000"/><text y="44.0" fill="#ff0000" stroke="#ff0000" stroke-width="0.08"><tspan x="279.7">4% </tspan><tspan x="300.1">Width</tspan></text>
<circle cx="266.9" cy="56.3" r="1.9" fill="#00ff00"/><text y="59.5" fill="#5cff5c" stroke="#5cff5c" stroke-width="0"><tspan x="280.4">8% </tspan><tspan x="300.4">Width</tspan></text>
<circle cx="266.9" cy="70.8" r="1.9" fill="#0000ff"/><text y="75.5" fill="#0000ff" stroke="#0000ff" stroke-width="0.1"><tspan x="278.6">16 </tspan><tspan x="292.6">% </tspan><tspan x="304.6">Width</tspan></text>
<circle cx="266.9" cy="89.1" r="1.9" fill="#000000"/><text y="93.1" fill="#000000" stroke="#000000" stroke-width="0.1"><tspan x="279">32% </tspan><tspan x="303.8">Width</tspan></text>
<path d="M257.5,106.3h18" stroke="#ff8000" stroke-width="1.3"/>
<text x="282.9" y="108.4" fill="#ff8000">pp <tspan x="302.9" y="110" font-family="DejaVu Math TeX Gyre, DejaVu Sans, sans-serif" font-size="14.7">→ </tspan><tspan x="320.7" y="108.3" font-style="italic" font-size="13.5" letter-spacing="0.4" fill="#ff952a">μμ, ττ</tspan></text>
<path d="M257.5,128.4h18" stroke="#ff00ff" stroke-width="1.3"/>
<text x="284.2" y="128.5" fill="#ff00ff">pp <tspan x="302.2" y="132.5" fill="#800080" font-family="DejaVu Math TeX Gyre, DejaVu Sans, sans-serif" font-size="14.7">→ </tspan><tspan x="321.3" y="130.6">ee</tspan></text>
</g>
</svg></body></html>
